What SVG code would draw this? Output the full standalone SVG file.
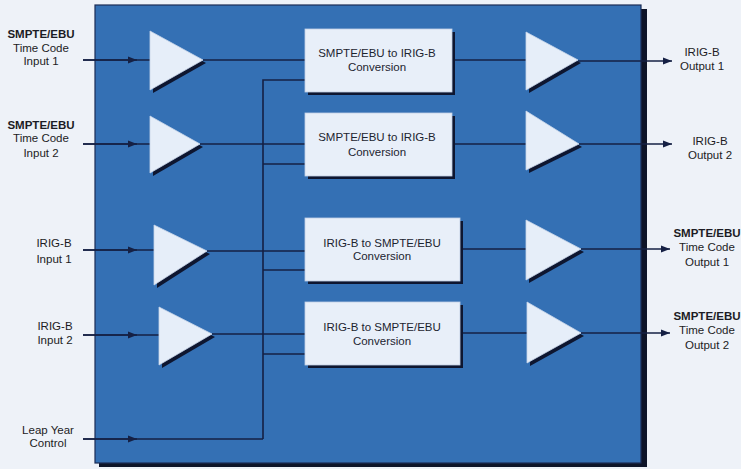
<svg xmlns="http://www.w3.org/2000/svg" width="741" height="469" viewBox="0 0 741 469">
<style>
.lbl{font-family:"Liberation Sans",Arial,sans-serif;font-size:11.5px;fill:#1c1c24;text-anchor:middle}
.bx{font-family:"Liberation Sans",Arial,sans-serif;font-size:11.5px;fill:#1c2430;text-anchor:middle}
.amp{fill:#e6eef9;stroke:#c8d6ea;stroke-width:0.8}
.ampsh{fill:#0e1630}
.cbox{fill:#e8eff9;stroke:#c0d0e6;stroke-width:0.8}
.cbsh{fill:#0e1630}
.ln{stroke:#152044;stroke-width:1.6;fill:none}
</style>
<defs>
<marker id="arr" viewBox="0 0 10 10" refX="10" refY="5" markerWidth="9" markerHeight="9" markerUnits="userSpaceOnUse" orient="auto">
<path d="M0,1 L10,5 L0,9 z" fill="#152044"/>
</marker>
</defs>
<rect width="741" height="469" fill="#eef2f8"/>
<g id="chassis">
<rect x="99" y="9" width="548" height="458" fill="#0d1428"/>
<rect x="95" y="5" width="546" height="458" fill="#3470b4" stroke="#1b2c55" stroke-width="1.2"/>
</g>
<g id="connectors">
<line class="ln" x1="83" y1="60" x2="150" y2="60"/>
<line class="ln" x1="83" y1="60" x2="137" y2="60" marker-end="url(#arr)"/>
<line class="ln" x1="83" y1="144" x2="150" y2="144"/>
<line class="ln" x1="83" y1="144" x2="137" y2="144" marker-end="url(#arr)"/>
<line class="ln" x1="83" y1="250" x2="154" y2="250"/>
<line class="ln" x1="83" y1="250" x2="137" y2="250" marker-end="url(#arr)"/>
<line class="ln" x1="83" y1="335" x2="159" y2="335"/>
<line class="ln" x1="83" y1="335" x2="137" y2="335" marker-end="url(#arr)"/>
<line class="ln" x1="83" y1="439" x2="263" y2="439"/>
<line class="ln" x1="83" y1="439" x2="137" y2="439" marker-end="url(#arr)"/>
<line class="ln" x1="203" y1="60" x2="305" y2="60"/>
<line class="ln" x1="200" y1="144" x2="305" y2="144"/>
<line class="ln" x1="207" y1="251" x2="305" y2="251"/>
<line class="ln" x1="212" y1="334" x2="305" y2="334"/>
<polyline class="ln" points="305,80 263,80 263,439"/>
<line class="ln" x1="263" y1="164" x2="305" y2="164"/>
<line class="ln" x1="263" y1="270" x2="305" y2="270"/>
<line class="ln" x1="263" y1="354" x2="305" y2="354"/>
<line class="ln" x1="452" y1="60" x2="526" y2="60"/>
<line class="ln" x1="452" y1="144" x2="526" y2="144"/>
<line class="ln" x1="460" y1="249" x2="526" y2="249"/>
<line class="ln" x1="460" y1="333" x2="527" y2="333"/>
<line class="ln" x1="578" y1="61" x2="672" y2="61" marker-end="url(#arr)"/>
<line class="ln" x1="579" y1="144" x2="672" y2="144" marker-end="url(#arr)"/>
<line class="ln" x1="581" y1="249" x2="670" y2="249" marker-end="url(#arr)"/>
<line class="ln" x1="581" y1="333" x2="670" y2="333" marker-end="url(#arr)"/>
</g>
<g id="amp-in1"><polygon class="ampsh" points="153,34 206,63 153,93"/><polygon class="amp" points="150,31 203,60 150,90"/></g>
<g id="amp-in2"><polygon class="ampsh" points="153,119 203,147 153,176"/><polygon class="amp" points="150,116 200,144 150,173"/></g>
<g id="amp-in3"><polygon class="ampsh" points="157,228 210,254 157,288"/><polygon class="amp" points="154,225 207,251 154,285"/></g>
<g id="amp-in4"><polygon class="ampsh" points="162,310 215,337 162,368"/><polygon class="amp" points="159,307 212,334 159,365"/></g>
<g id="amp-out1"><polygon class="ampsh" points="529,35 581,63 529,93"/><polygon class="amp" points="526,32 578,60 526,90"/></g>
<g id="amp-out2"><polygon class="ampsh" points="529,114 582,147 529,173"/><polygon class="amp" points="526,111 579,144 526,170"/></g>
<g id="amp-out3"><polygon class="ampsh" points="529,223 584,252 529,283"/><polygon class="amp" points="526,220 581,249 526,280"/></g>
<g id="amp-out4"><polygon class="ampsh" points="530,305 584,336 530,366"/><polygon class="amp" points="527,302 581,333 527,363"/></g>
<g id="conv1"><rect class="cbsh" x="308" y="32" width="147" height="63"/><rect class="cbox" x="305" y="29" width="147" height="63"/>
<text class="bx" x="377" y="57">SMPTE/EBU to IRIG-B</text><text class="bx" x="377" y="71">Conversion</text></g>
<g id="conv2"><rect class="cbsh" x="308" y="116" width="147" height="63"/><rect class="cbox" x="305" y="113" width="147" height="63"/>
<text class="bx" x="377" y="141">SMPTE/EBU to IRIG-B</text><text class="bx" x="377" y="156">Conversion</text></g>
<g id="conv3"><rect class="cbsh" x="308" y="221" width="155" height="63"/><rect class="cbox" x="305" y="218" width="155" height="63"/>
<text class="bx" x="382" y="247">IRIG-B to SMPTE/EBU</text><text class="bx" x="382" y="260">Conversion</text></g>
<g id="conv4"><rect class="cbsh" x="308" y="305" width="155" height="63"/><rect class="cbox" x="305" y="302" width="155" height="63"/>
<text class="bx" x="382" y="331">IRIG-B to SMPTE/EBU</text><text class="bx" x="382" y="345">Conversion</text></g>
<g id="label-in1"><text class="lbl" x="41" y="38" font-weight="bold">SMPTE/EBU</text><text class="lbl" x="41" y="52">Time Code</text><text class="lbl" x="41" y="65">Input 1</text></g>
<g id="label-in2"><text class="lbl" x="41" y="129" font-weight="bold">SMPTE/EBU</text><text class="lbl" x="41" y="142">Time Code</text><text class="lbl" x="41" y="157">Input 2</text></g>
<g id="label-in3"><text class="lbl" x="54" y="247">IRIG-B</text><text class="lbl" x="54" y="263">Input 1</text></g>
<g id="label-in4"><text class="lbl" x="55" y="330">IRIG-B</text><text class="lbl" x="55" y="344">Input  2</text></g>
<g id="label-leap"><text class="lbl" x="48" y="434">Leap Year</text><text class="lbl" x="48" y="447">Control</text></g>
<g id="label-out1"><text class="lbl" x="702" y="56">IRIG-B</text><text class="lbl" x="702" y="70">Output 1</text></g>
<g id="label-out2"><text class="lbl" x="710" y="145">IRIG-B</text><text class="lbl" x="710" y="159">Output 2</text></g>
<g id="label-out3"><text class="lbl" x="707" y="237" font-weight="bold">SMPTE/EBU</text><text class="lbl" x="707" y="251">Time Code</text><text class="lbl" x="707" y="266">Output 1</text></g>
<g id="label-out4"><text class="lbl" x="707" y="320" font-weight="bold">SMPTE/EBU</text><text class="lbl" x="707" y="334">Time Code</text><text class="lbl" x="707" y="349">Output 2</text></g>
</svg>
